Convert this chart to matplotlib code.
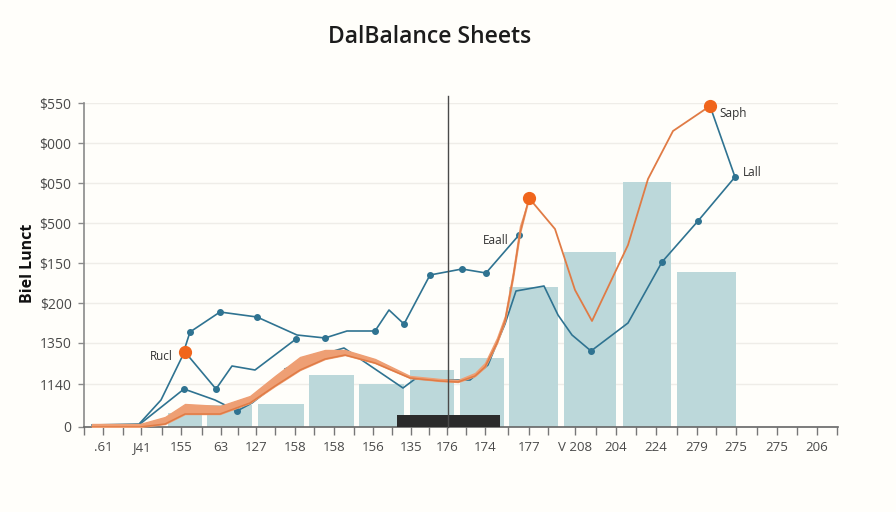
import matplotlib.pyplot as plt

plt.rcParams['font.family'] = ['Open Sans', 'DejaVu Sans']

TITLE = 'DalBalance Sheets'
YLABEL = 'Biel Lunct'
BG = '#fffefa'
TEAL = '#2f7391'
ORANGE = '#e07b45'
HOT = '#f0651c'

# x is in chart units along the axis, y is height above the baseline
Y_TICKS = [0, 43, 84, 124, 164, 204, 244, 284, 324]
Y_LABELS = ['0', '1140', '1350', '$200', '$150', '$500', '$050', '$000', '$550']

X_TICKS = [103, 141, 181, 221, 256, 295, 334, 373, 411, 447, 485, 529, 575, 616, 656, 697, 736, 777, 817]
X_LABELS = ['.61', 'J41', '155', '63', '127', '158', '158', '156', '135', '176',
            '174', '177', 'V 208', '204', '224', '279', '275', '275', '206']
X_MINOR = [84, 123, 162, 202, 238, 275, 314, 354, 392, 429, 466, 508, 548, 596, 636, 677, 716, 757, 797, 837]

BAR_LEFT = [92, 168, 207, 258, 309, 359, 410, 460, 509, 564, 623, 677]
BAR_RIGHT = [100, 202, 252, 304, 354, 404, 454, 504, 558, 616, 671, 736]
BAR_VALUE = [3, 14, 22, 23, 52, 43, 57, 69, 140, 175, 245, 155]

DARK_LEFT, DARK_RIGHT, DARK_VALUE = 397, 500, 12
DIVIDER_X = 447.5
DIVIDER_TOP = 331

UPPER_X = [140, 161, 182, 190, 220, 257, 297, 325, 347, 375, 389, 404, 430, 462, 486, 519]
UPPER_Y = [4, 27, 70, 95, 115, 110, 92, 89, 96, 96, 117, 103, 152, 158, 154, 192]
UPPER_MARK_X = [190, 220, 257, 325, 375, 404, 430, 462, 486, 519]
UPPER_MARK_Y = [95, 115, 110, 89, 96, 103, 152, 158, 154, 192]

MID_X = [185, 216, 232, 255, 296]
MID_Y = [75, 38, 61, 57, 88]
MID_MARK_X = [216, 296]
MID_MARK_Y = [38, 88]

LOW_X = [92, 140, 184, 215, 237, 252, 275]
LOW_Y = [2, 3, 38, 27, 16, 24, 42]
LOW_MARK_X = [184, 237]
LOW_MARK_Y = [38, 16]

RIGHT_X = [285, 320, 344, 375, 403, 415, 440, 470, 488, 497, 505, 516, 544, 558, 572, 591, 628, 662, 698, 735, 710]
RIGHT_Y = [58, 72, 79, 58, 39, 48, 47, 47, 62, 84, 103, 136, 141, 112, 92, 76, 104, 165, 206, 250, 321]
RIGHT_MARK_X = [591, 662, 698, 735]
RIGHT_MARK_Y = [76, 165, 206, 250]

BAND_X = [92, 140, 165, 185, 220, 250, 275, 300, 325, 345, 375, 410, 440, 458, 475, 485, 497, 505, 513, 520, 529]
BAND_LOW = [0, 0, 3, 13, 13, 24, 41, 57, 68, 72, 64, 49, 46, 45, 51, 60, 84, 106, 149, 194, 229]
BAND_HIGH = [3, 3, 10, 23, 21, 31, 51, 70, 77, 77, 68, 51, 48, 47, 54, 64, 89, 111, 155, 201, 229]

THIN_X = [529, 555, 575, 592, 628, 648, 673, 710]
THIN_Y = [229, 198, 137, 106, 182, 248, 296, 321]

PEAK_X = [185, 529, 710]
PEAK_Y = [75, 229, 321]


def main() -> None:
  fig = plt.figure(figsize=(8.96, 5.12), dpi=100, facecolor=BG)
  ax = fig.add_axes([84 / 896, 1 - 427 / 512, 754 / 896, 324 / 512], facecolor=BG)
  ax.set_xlim(84, 838)
  ax.set_ylim(0, 324)

  widths = [r - l for l, r in zip(BAR_LEFT, BAR_RIGHT)]
  ax.bar(BAR_LEFT, BAR_VALUE, widths, align='edge', color='#bcd8da', zorder=2)
  ax.bar(DARK_LEFT, DARK_VALUE, DARK_RIGHT - DARK_LEFT, align='edge', color='#2b2b2b', zorder=3)
  ax.plot([DIVIDER_X, DIVIDER_X], [0, DIVIDER_TOP], color='#4a4a4a', lw=1, zorder=6, clip_on=False)

  for xs, ys in [(UPPER_X, UPPER_Y), (MID_X, MID_Y), (LOW_X, LOW_Y), (RIGHT_X, RIGHT_Y)]:
    ax.plot(xs, ys, color=TEAL, lw=1.2, zorder=4)
  for xs, ys in [(UPPER_MARK_X, UPPER_MARK_Y), (MID_MARK_X, MID_MARK_Y),
                 (LOW_MARK_X, LOW_MARK_Y), (RIGHT_MARK_X, RIGHT_MARK_Y)]:
    ax.plot(xs, ys, 'o', color=TEAL, ms=4, zorder=4.5)

  ax.fill_between(BAND_X, BAND_LOW, BAND_HIGH, color='#ee9f74', lw=1, zorder=5)
  ax.plot(BAND_X, BAND_LOW, color=ORANGE, lw=1.1, zorder=5.2)
  ax.plot(THIN_X, THIN_Y, color=ORANGE, lw=1.3, zorder=5.2)
  ax.plot(PEAK_X, PEAK_Y, 'o', color=HOT, ms=8.5, zorder=7, clip_on=False)

  ax.set_yticks(Y_TICKS, Y_LABELS)
  ax.set_xticks(X_TICKS, X_LABELS)
  ax.set_xticks(X_MINOR, minor=True)
  ax.grid(axis='y', color='#efede8', lw=1, zorder=0)
  ax.tick_params(axis='y', length=4, width=1, color='#8a8a8a', labelsize=10, labelcolor='#4a4a4a', pad=5)
  ax.tick_params(axis='x', which='both', length=6, width=1, color='#777777')
  ax.tick_params(axis='x', labelsize=9.5, labelcolor='#4a4a4a', pad=4)

  for side in ['top', 'right']:
    ax.spines[side].set_visible(False)
  ax.spines['left'].set_color('#8a8a8a')
  ax.spines['bottom'].set_color('#666666')
  ax.spines['left'].set_linewidth(1.2)
  ax.spines['bottom'].set_linewidth(1.2)

  for x, y, label in [(150, 70, 'Rucl'), (483, 186, 'Eaall'), (719, 314, 'Saph'), (743, 254, 'Lall')]:
    ax.text(x, y, label, fontsize=8.5, color='#333333', va='center', zorder=8)

  fig.text(430 / 896, 1 - 37 / 512, TITLE, fontsize=16.5, color='#1c1c1c', ha='center', va='center',
           fontweight='semibold')
  fig.text(28 / 896, 1 - 263 / 512, YLABEL, fontsize=11.5, color='#111111', ha='center', va='center',
           rotation=90, fontweight='bold')

  fig.savefig('out.png', dpi=100, facecolor=BG)


if __name__ == '__main__':
  main()
